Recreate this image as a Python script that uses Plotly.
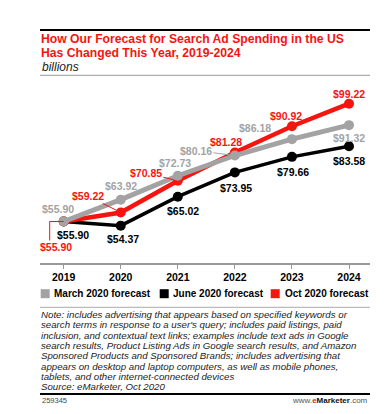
import plotly.graph_objects as go

years = [2019, 2020, 2021, 2022, 2023, 2024]
march_2020 = [55.90, 63.92, 72.73, 80.16, 86.18, 91.32]
june_2020 = [55.90, 54.37, 65.02, 73.95, 79.66, 83.58]
oct_2020 = [55.90, 59.22, 70.85, 81.28, 90.92, 99.22]
series_names = ["March 2020 forecast", "June 2020 forecast", "Oct 2020 forecast"]

title_lines = ["How Our Forecast for Search Ad Spending in the US",
               "Has Changed This Year, 2019-2024"]
subtitle = "billions"
note_lines = [
    "Note: includes advertising that appears based on specified keywords or",
    "search terms in response to a user's query; includes paid listings, paid",
    "inclusion, and contextual text links; examples include text ads in Google",
    "search results, Product Listing Ads in Google search results, and Amazon",
    "Sponsored Products and Sponsored Brands; includes advertising that",
    "appears on desktop and laptop computers, as well as mobile phones,",
    "tablets, and other internet-connected devices",
    "Source: eMarketer, Oct 2020",
]

GREY = "#a3a3a3"
BLACK = "#000000"
RED = "#f5140f"
FONT = "Liberation Sans, Arial, sans-serif"

W, H = 389, 414
L, R, T, B = 32, 27, 75, 159
PW, PH = W - L - R, H - T - B


def px(x):
    return (x - L) / PW


def py(y):
    return (H - B - y) / PH


fig = go.Figure()
for vals, col, lw, name in [(june_2020, BLACK, 3.5, series_names[1]),
                            (oct_2020, RED, 4.5, series_names[2]),
                            (march_2020, GREY, 5, series_names[0])]:
    fig.add_trace(go.Scatter(x=years, y=vals, mode="lines+markers", name=name,
                             line=dict(color=col, width=lw),
                             marker=dict(color=col, size=10),
                             showlegend=False, cliponaxis=False))

ann = []
shapes = []

grey_off = [(-6, -13, False), (0, -14, False), (-3, -13, False), (-39, -5, True), (-37, -11, False), (0, 13, False)]
black_off = [(9, 13.5, False), (2, 13, False), (5, 14.5, False), (1, 15.5, False), (1, 15, False), (0, 14.5, False)]
red_off = [(-8, 25.5, False), (-33, -16.5, True), (-32, -8, True), (-9, -10.5, False), (-6, -10, False), (0, -10, False)]

for vals, col, offs in [(march_2020, GREY, grey_off), (june_2020, BLACK, black_off), (oct_2020, RED, red_off)]:
    for yr, v, (dx, dy, lead) in zip(years, vals, offs):
        txt = "<b>$%.2f</b>" % v
        if lead:
            ann.append(dict(x=yr, y=v, xref="x", yref="y", text=txt, showarrow=True,
                            ax=dx, ay=dy, axref="pixel", ayref="pixel",
                            arrowhead=0, arrowwidth=1, arrowcolor=col, standoff=4,
                            font=dict(family=FONT, size=10.5, color=col)))
        else:
            ann.append(dict(x=yr, y=v, xref="x", yref="y", text=txt, showarrow=False,
                            xshift=dx, yshift=-dy,
                            font=dict(family=FONT, size=10.5, color=col)))

shapes.append(dict(type="path", xref="x", yref="y", xsizemode="pixel", ysizemode="pixel",
                   xanchor=years[0], yanchor=oct_2020[0],
                   path="M0,0 L-14,0 L-14,-19", line=dict(color=RED, width=1)))

for i, t in enumerate(title_lines):
    ann.append(dict(x=px(32), y=py(31.0 + i * 13.8), xref="paper", yref="paper", text="<b>" + t + "</b>",
                    showarrow=False, xanchor="left", yanchor="middle", borderpad=0,
                    font=dict(family=FONT, size=12.2, color=RED)))
ann.append(dict(x=px(32), y=py(58.5), xref="paper", yref="paper", text="<i>" + subtitle + "</i>",
                showarrow=False, xanchor="left", yanchor="middle",
                font=dict(family=FONT, size=12, color="#222")))

leg = [(32.7, 44, GREY), (151.7, 163, BLACK), (262.7, 274.7, RED)]
for (sx, tx, col), name in zip(leg, series_names):
    shapes.append(dict(type="rect", xref="paper", yref="paper",
                       x0=px(sx), x1=px(sx + 9), y0=py(281.2), y1=py(290.2),
                       fillcolor=col, line=dict(width=0)))
    ann.append(dict(x=px(tx), y=py(285.7), xref="paper", yref="paper", text="<b>" + name + "</b>",
                    showarrow=False, xanchor="left", yanchor="middle",
                    font=dict(family=FONT, size=10, color="#000")))

for i, t in enumerate(note_lines):
    ann.append(dict(x=px(32), y=py(306.7 + i * 10.29), xref="paper", yref="paper", text="<i>" + t + "</i>",
                    showarrow=False, xanchor="left", yanchor="middle", borderpad=0,
                    font=dict(family=FONT, size=9.7, color="#222")))

ann.append(dict(x=px(32), y=py(392.3), xref="paper", yref="paper", text="259345",
                showarrow=False, xanchor="left", yanchor="middle",
                font=dict(family=FONT, size=7.5, color="#444")))
ann.append(dict(x=px(362), y=py(392.3), xref="paper", yref="paper",
                text="www.<b><span style='color:#e8251f'>e</span><span style='color:#111'>Marketer</span></b>.com",
                showarrow=False, xanchor="right", yanchor="middle",
                font=dict(family=FONT, size=8, color="#555")))

for y, col, w in [(22, "#000", 2), (67.3, "#999", 1), (299.3, "#aaa", 1), (386, "#000", 2)]:
    shapes.append(dict(type="line", xref="paper", yref="paper", x0=0, x1=1, y0=py(y), y1=py(y),
                       line=dict(color=col, width=w)))

fig.update_layout(
    width=W, height=H, margin=dict(l=L, r=R, t=T, b=B),
    paper_bgcolor="white", plot_bgcolor="white",
    annotations=ann, shapes=shapes, showlegend=False,
    xaxis=dict(range=[2018.585, 2024.368], tickvals=years, ticktext=["<b>%d</b>" % y for y in years],
               showgrid=False, zeroline=False, showline=True, linecolor="#999", linewidth=1.5,
               ticks="outside", ticklen=4, tickcolor="#999",
               tickfont=dict(family=FONT, size=10.5, color="#000"), fixedrange=True),
    yaxis=dict(range=[40.64, 106.82], visible=False, fixedrange=True),
)

fig.write_html("out.html")
